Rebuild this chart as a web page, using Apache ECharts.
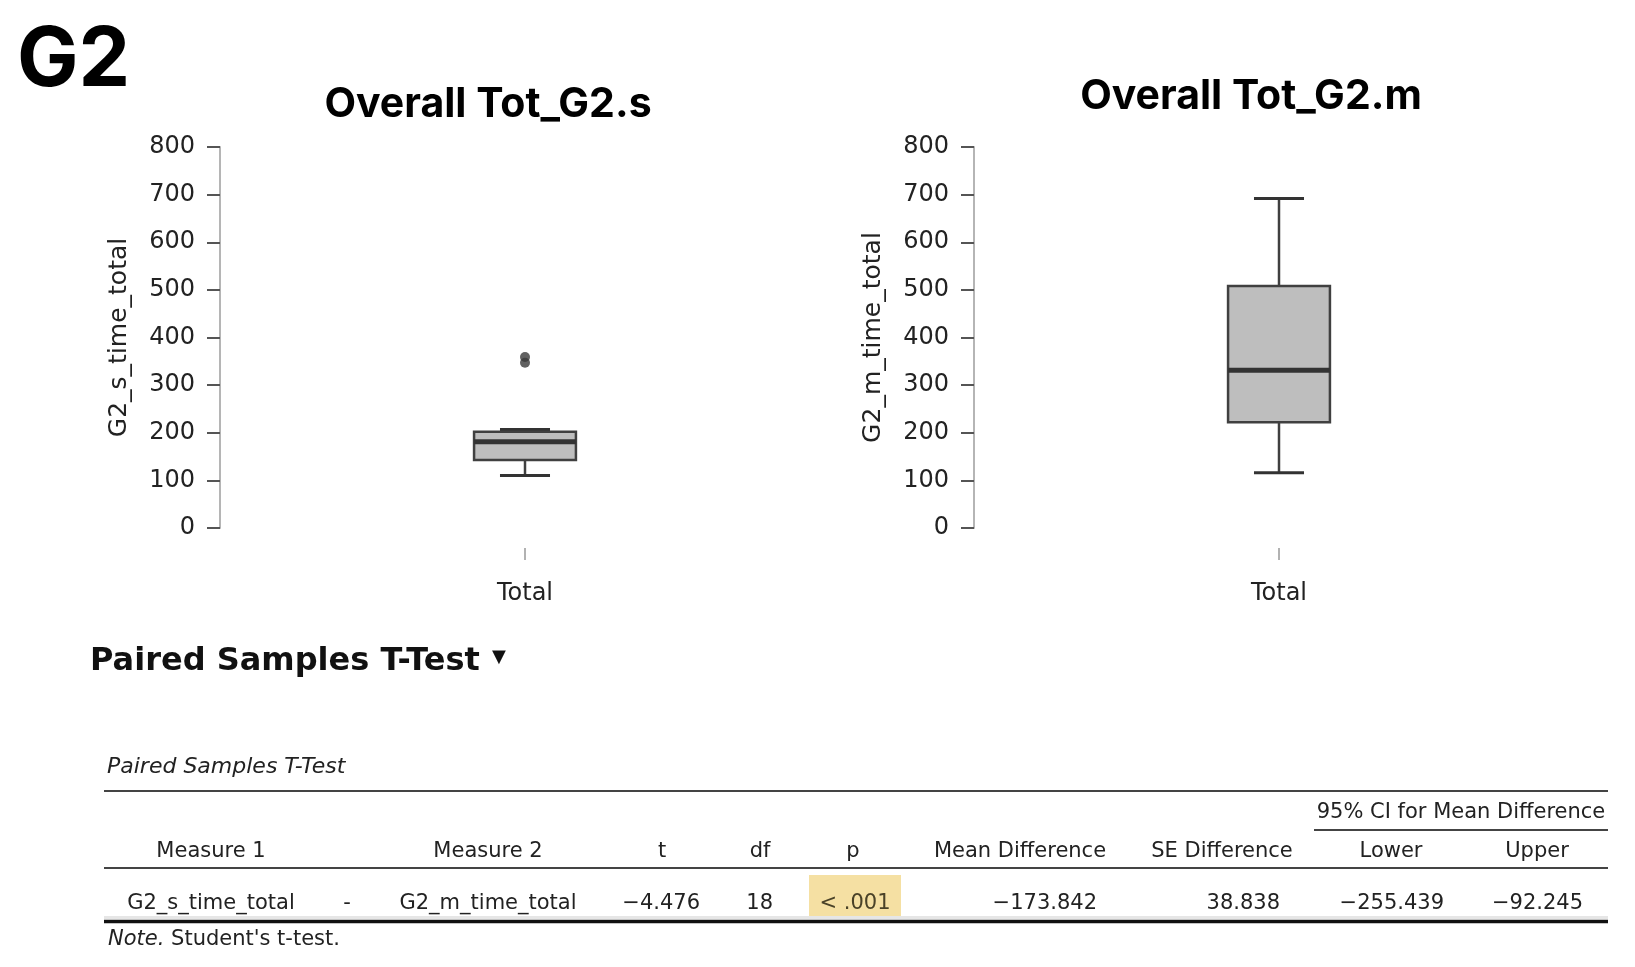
<!DOCTYPE html>
<html>
<head>
<meta charset="utf-8">
<script src="https://cdn.jsdelivr.net/npm/echarts@6/dist/echarts.min.js"></script>
<style>
  html, body { margin: 0; padding: 0; background: #ffffff; }
  #chart { width: 1635px; height: 967px; }
</style>
</head>
<body>
<div id="chart"></div>
<script>
// ---------------- data ----------------
const pageTitle = 'G2';
const chartTitles = ['Overall Tot_G2.s', 'Overall Tot_G2.m'];
const axisNames = ['G2_s_time_total', 'G2_m_time_total'];
const categories = ['Total'];
const yTicks = [0, 100, 200, 300, 400, 500, 600, 700, 800];
// [lower whisker, Q1, median, Q3, upper whisker]
const sBox = [110, 143, 181, 202, 207];
const sOutliers = [347, 359];
const mBox = [116, 222, 331, 508, 692];
const mOutliers = [];

const sectionHeading = 'Paired Samples T-Test';
const tableCaption = 'Paired Samples T-Test';
const ciHeader = '95% CI for Mean Difference';
const tableHeaders = ['Measure 1', '', 'Measure 2', 't', 'df', 'p', 'Mean Difference', 'SE Difference', 'Lower', 'Upper'];
const tableRow = ['G2_s_time_total', '-', 'G2_m_time_total', '\u22124.476', '18', '< .001', '\u2212173.842', '38.838', '\u2212255.439', '\u221292.245'];
const tableNote = ["Note.", " Student's t-test."];

// ---------------- layout ----------------
const TXT = '#222222';
const BODY_FONT = '"DejaVu Sans", "Noto Sans", sans-serif';
const TITLE_FONT = 'Inter, Roboto, "Liberation Sans", sans-serif';

const grids = [
  { left: 220, top: 147, width: 610, height: 381 },
  { left: 974, top: 147, width: 610, height: 381 }
];

function boxItem(params, api) {
  const x = api.value(0);
  const lo = api.coord([x, api.value(1)]);
  const q1 = api.coord([x, api.value(2)]);
  const med = api.coord([x, api.value(3)]);
  const q3 = api.coord([x, api.value(4)]);
  const hi = api.coord([x, api.value(5)]);
  const band = api.size([1, 0])[0];
  const bw = band * 0.167;
  const cw = band * 0.082;
  const cx = lo[0];
  const stroke = '#404040';
  return {
    type: 'group',
    children: [
      { type: 'line', shape: { x1: cx, y1: q3[1], x2: cx, y2: hi[1] }, style: { stroke: stroke, lineWidth: 2.5 } },
      { type: 'line', shape: { x1: cx, y1: q1[1], x2: cx, y2: lo[1] }, style: { stroke: stroke, lineWidth: 2.5 } },
      { type: 'line', shape: { x1: cx - cw / 2, y1: hi[1], x2: cx + cw / 2, y2: hi[1] }, style: { stroke: '#333', lineWidth: 3 } },
      { type: 'line', shape: { x1: cx - cw / 2, y1: lo[1], x2: cx + cw / 2, y2: lo[1] }, style: { stroke: '#333', lineWidth: 3 } },
      { type: 'rect', shape: { x: cx - bw / 2, y: q3[1], width: bw, height: q1[1] - q3[1] }, style: { fill: '#bebebe', stroke: stroke, lineWidth: 2.5 } },
      { type: 'line', shape: { x1: cx - bw / 2, y1: med[1], x2: cx + bw / 2, y2: med[1] }, style: { stroke: '#333', lineWidth: 5 } }
    ]
  };
}

function yAxisCfg(i, name) {
  return {
    type: 'value', gridIndex: i, min: yTicks[0], max: yTicks[yTicks.length - 1], interval: 100,
    name: name, nameLocation: 'middle', nameGap: 88, nameRotate: 90,
    nameTextStyle: { fontFamily: BODY_FONT, fontSize: 25, color: TXT },
    axisLine: { show: true, lineStyle: { color: '#b5b5b5', width: 2 } },
    axisTick: { show: true, length: 13, lineStyle: { color: '#555', width: 2 } },
    axisLabel: { margin: 25, fontFamily: BODY_FONT, fontSize: 24, color: TXT },
    splitLine: { show: false }
  };
}
function xAxisCfg(i) {
  return {
    type: 'category', gridIndex: i, data: categories, offset: 20,
    axisLine: { show: false, onZero: false },
    axisTick: { show: true, inside: false, alignWithLabel: true, length: 12, lineStyle: { color: '#999', width: 1.5 } },
    axisLabel: { margin: 34, fontFamily: BODY_FONT, fontSize: 24, color: TXT },
    splitLine: { show: false }
  };
}

// ---------------- table graphics ----------------
const colCenters = [211, 347, 488, 662, 760, 853, 1020, 1222, 1391, 1537];
const rowAlign = ['center', 'center', 'center', 'right', 'right', 'center', 'right', 'right', 'right', 'right'];
const rowX = [211, 347, 488, 700, 773, 855, 1097, 1280, 1444, 1583];
const tableLeft = 104, tableRight = 1608;

function txt(x, y, text, opts) {
  return {
    type: 'text', x: x, y: y, z: 10,
    style: Object.assign({
      text: text, fill: TXT, fontFamily: BODY_FONT, fontSize: 21,
      textAlign: 'left', align: 'left', verticalAlign: 'middle', textVerticalAlign: 'middle'
    }, opts || {})
  };
}
function setAlign(o, a) { o.style.textAlign = a; o.style.align = a; return o; }
function hline(x1, x2, y, w, c) {
  return { type: 'line', z: 5, shape: { x1: x1, y1: y, x2: x2, y2: y }, style: { stroke: c, lineWidth: w } };
}

const graphics = [];
graphics.push(txt(17, 61, pageTitle, { fontFamily: TITLE_FONT, fontWeight: 'bold', fontSize: 82, fill: '#000' }));
graphics.push(setAlign(txt(488, 105, chartTitles[0], { fontFamily: TITLE_FONT, fontWeight: 'bold', fontSize: 41, fill: '#000' }), 'center'));
graphics.push(setAlign(txt(1251, 97, chartTitles[1], { fontFamily: TITLE_FONT, fontWeight: 'bold', fontSize: 41, fill: '#000' }), 'center'));

graphics.push(txt(90, 662, sectionHeading, { fontWeight: 'bold', fontSize: 32, fill: '#111' }));
graphics.push(txt(492, 657, '\u25BC', { fontSize: 18, fill: '#111' }));
graphics.push(txt(107, 767, tableCaption, { fontStyle: 'italic', fontSize: 22 }));

graphics.push(hline(tableLeft, tableRight, 791, 2, '#444'));
graphics.push(setAlign(txt(1461, 813, ciHeader), 'center'));
graphics.push(hline(1314, tableRight, 830, 2, '#444'));
tableHeaders.forEach(function (h, i) {
  if (h) graphics.push(setAlign(txt(colCenters[i], 852, h), 'center'));
});
graphics.push(hline(tableLeft, tableRight, 868, 2, '#444'));
graphics.push({ type: 'rect', z: 2, shape: { x: 809, y: 875, width: 92, height: 41 }, style: { fill: '#f5e0a3' } });
tableRow.forEach(function (v, i) {
  graphics.push(setAlign(txt(rowX[i], 904, v, i === 5 ? { fill: '#4a4228' } : {}), rowAlign[i]));
});
graphics.push(hline(tableLeft, tableRight, 917.5, 3, '#e6e6e6'));
graphics.push(hline(tableLeft, tableRight, 921.5, 3.5, '#111'));
graphics.push(txt(108, 940, '{i|' + tableNote[0] + '}' + tableNote[1], {
  rich: { i: { fontStyle: 'italic', fontFamily: BODY_FONT, fontSize: 21, fill: TXT } }
}));

// ---------------- chart ----------------
const chart = echarts.init(document.getElementById('chart'), null, { renderer: 'canvas' });
chart.setOption({
  backgroundColor: '#ffffff',
  animation: false,
  grid: grids,
  xAxis: [xAxisCfg(0), xAxisCfg(1)],
  yAxis: [yAxisCfg(0, axisNames[0]), yAxisCfg(1, axisNames[1])],
  series: [
    { type: 'custom', xAxisIndex: 0, yAxisIndex: 0, renderItem: boxItem,
      data: [[0].concat(sBox)], encode: { x: 0, y: [1, 2, 3, 4, 5] } },
    { type: 'custom', xAxisIndex: 1, yAxisIndex: 1, renderItem: boxItem,
      data: [[0].concat(mBox)], encode: { x: 0, y: [1, 2, 3, 4, 5] } },
    { type: 'scatter', xAxisIndex: 0, yAxisIndex: 0, symbolSize: 10,
      itemStyle: { color: '#3a3a3a' }, data: sOutliers.map(function (v) { return [0, v]; }) },
    { type: 'scatter', xAxisIndex: 1, yAxisIndex: 1, symbolSize: 10,
      itemStyle: { color: '#3a3a3a' }, data: mOutliers.map(function (v) { return [0, v]; }) }
  ],
  graphic: graphics
});
</script>
</body>
</html>
